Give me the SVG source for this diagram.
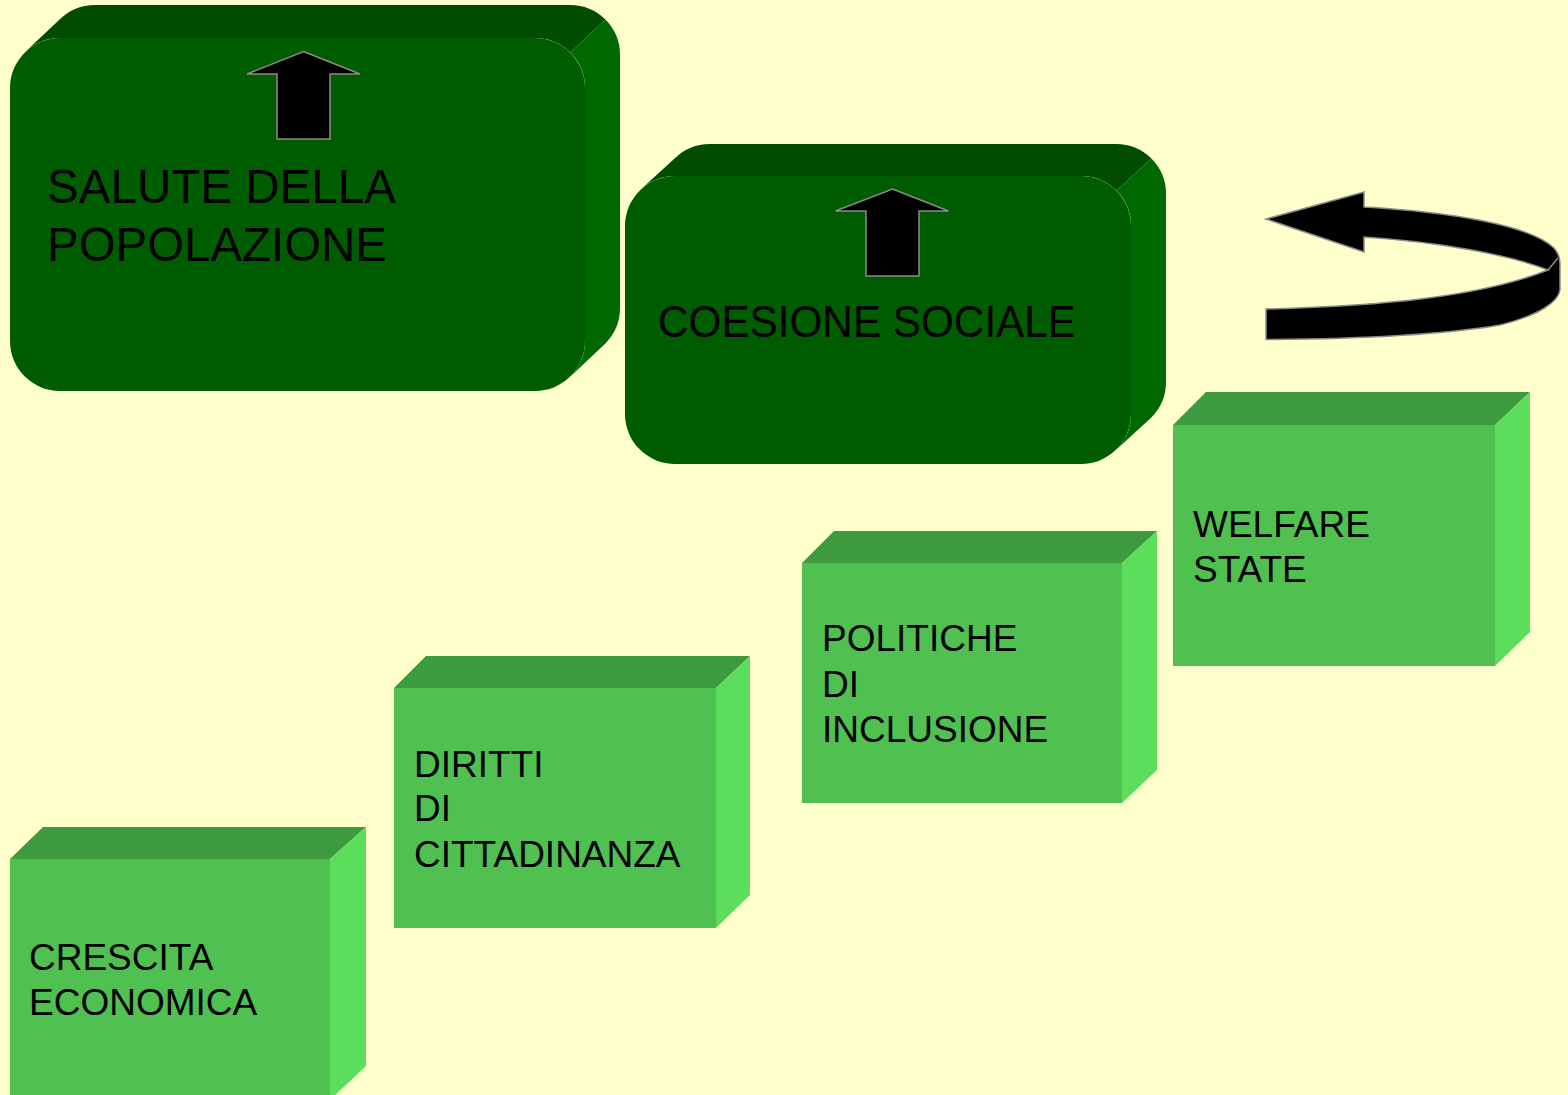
<svg xmlns="http://www.w3.org/2000/svg" width="1568" height="1095" viewBox="0 0 1568 1095">
<style>
.bg{fill:#ffffcc}
.dtop{fill:#004c00}
.dright{fill:#006800}
.dfront{fill:#005c00}
.gtop{fill:#3e9a3e}
.gright{fill:#5cdd5c}
.gfront{fill:#50c150}
.blk{fill:#000;stroke:#8a8a8a;stroke-width:1.5;stroke-linejoin:miter}
.t{font-family:"Liberation Sans",Arial,sans-serif;fill:#000}
.big{font-size:49px}
.med{font-size:44px}
.sm{font-size:37px}
</style>
<rect class="bg" x="0" y="0" width="1568" height="1095"/>

<g id="node-salute">
<path class="dtop" d="M24.6,52.6 L59.6,19.6 A50,50 0 0 1 95,5 L570,5 A50,50 0 0 1 605.4,19.6 L570.4,52.6 A50,50 0 0 0 535,38 L60,38 A50,50 0 0 0 24.6,52.6 Z"/>
<path class="dright" d="M570.4,52.6 L605.4,19.6 A50,50 0 0 1 620,55 L620,308 A50,50 0 0 1 605.4,343.4 L570.4,376.4 A50,50 0 0 0 585,341 L585,88 A50,50 0 0 0 570.4,52.6 Z"/>
<rect class="dfront" x="10" y="38" width="575" height="353" rx="50" ry="50"/>
<text class="t big" x="47" y="203" textLength="349" lengthAdjust="spacingAndGlyphs">SALUTE DELLA</text>
<text class="t big" x="47" y="261" textLength="340" lengthAdjust="spacingAndGlyphs">POPOLAZIONE</text>
</g>

<g id="node-coesione">
<path class="dtop" d="M639.6,190.6 L674.6,158.6 A50,50 0 0 1 710,144 L1116,144 A50,50 0 0 1 1151.4,158.6 L1116.4,190.6 A50,50 0 0 0 1081,176 L675,176 A50,50 0 0 0 639.6,190.6 Z"/>
<path class="dright" d="M1116.4,190.6 L1151.4,158.6 A50,50 0 0 1 1166,194 L1166,382 A50,50 0 0 1 1151.4,417.4 L1116.4,449.4 A50,50 0 0 0 1131,414 L1131,226 A50,50 0 0 0 1116.4,190.6 Z"/>
<rect class="dfront" x="625" y="176" width="506" height="288" rx="50" ry="50"/>
<text class="t med" x="658" y="337" textLength="418" lengthAdjust="spacingAndGlyphs">COESIONE SOCIALE</text>
</g>

<g id="node-welfare">
<polygon class="gtop" points="1173,425 1206,392 1530,392 1495,425"/>
<polygon class="gright" points="1495,425 1530,392 1530,632 1495,666"/>
<rect class="gfront" x="1173" y="425" width="322" height="241"/>
<text class="t sm" x="1193" y="537">WELFARE</text>
<text class="t sm" x="1193" y="582">STATE</text>
</g>

<g id="node-politiche">
<polygon class="gtop" points="802,563 834,531 1157,531 1122,563"/>
<polygon class="gright" points="1122,563 1157,531 1157,770 1122,803"/>
<rect class="gfront" x="802" y="563" width="320" height="240"/>
<text class="t sm" x="822" y="651">POLITICHE</text>
<text class="t sm" x="822" y="697">DI</text>
<text class="t sm" x="822" y="742">INCLUSIONE</text>
</g>

<g id="node-diritti">
<polygon class="gtop" points="394,688 426,656 750,656 716,688"/>
<polygon class="gright" points="716,688 750,656 750,895 716,928"/>
<rect class="gfront" x="394" y="688" width="322" height="240"/>
<text class="t sm" x="414" y="777">DIRITTI</text>
<text class="t sm" x="414" y="821">DI</text>
<text class="t sm" x="414" y="867">CITTADINANZA</text>
</g>

<g id="node-crescita">
<polygon class="gtop" points="10,859 43,827 366,827 330,859"/>
<polygon class="gright" points="330,859 366,827 366,1066 330,1100"/>
<rect class="gfront" x="10" y="859" width="320" height="241"/>
<text class="t sm" x="29" y="970">CRESCITA</text>
<text class="t sm" x="29" y="1015">ECONOMICA</text>
</g>

<g id="connectors">
<path class="blk" d="M303.5,51.5 L360,74 L330,74 L330,139 L277,139 L277,74 L247,74 Z"/>
<path class="blk" d="M892.5,189 L948.5,211 L919,211 L919,276 L866,276 L866,211 L835.5,211 Z"/>
<path class="blk" d="M1266,219 L1364,192 L1364,207 C1450,212 1530,225 1554,248 Q1560,255 1560,263 L1560,290 C1558,302 1540,315 1500,325 C1440,335 1350,339 1266,339.5 L1266,309 C1380,306 1480,297 1548,270 C1510,255 1440,242 1364,237 L1364,252 Z"/>
<path d="M1548,270 L1558,258" fill="none" stroke="#8a8a8a" stroke-width="1.5"/>
</g>
</svg>
